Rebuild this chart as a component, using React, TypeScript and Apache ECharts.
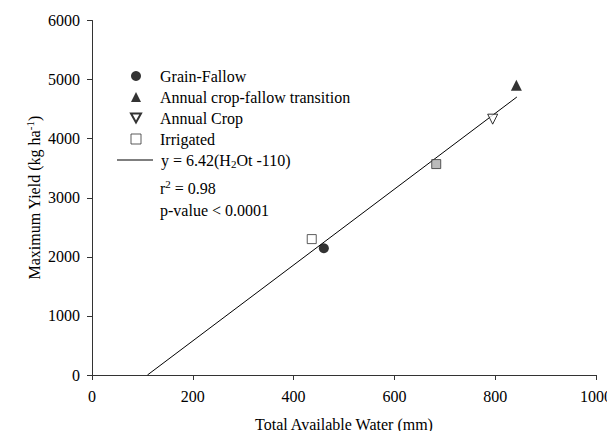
import React, { useEffect, useRef } from "react";
import * as echarts from "echarts";

const grainFallow: number[][] = [[460, 2145]];
const transition: number[][] = [[842, 4905]];
const annualCrop: number[][] = [[795, 4330]];
const irrigated: number[][] = [[436, 2300], [683, 3570]];
const fitLine: number[][] = [[110, 0], [843, 4705]];
const xTicks = [0, 200, 400, 600, 800, 1000];
const yTicks = [0, 1000, 2000, 3000, 4000, 5000, 6000];

const FONT = "'Liberation Serif', 'Times New Roman', serif";

export default function App() {
  const ref = useRef<HTMLDivElement>(null);
  useEffect(() => {
    const chart = echarts.init(ref.current!, undefined, { renderer: "svg" });
    const txt = { fontFamily: FONT, fontSize: 16, color: "#000" };
    const richA = { a: { fontFamily: FONT, fontSize: 16, color: "#000" } };
    chart.setOption({
      animation: false,
      backgroundColor: "#fff",
      textStyle: { fontFamily: FONT },
      grid: { left: 92, right: 17, top: 20.5, bottom: 64 },
      xAxis: {
        type: "value",
        min: xTicks[0],
        max: xTicks[xTicks.length - 1],
        interval: 200,
        name: "{a|Total Available Water (mm)}",
        nameLocation: "middle",
        nameGap: 41,
        nameMoveOverlap: false,
        nameTextStyle: { ...txt, rich: richA },
        axisLine: { show: true, lineStyle: { color: "#333", width: 1 } },
        axisTick: { show: true, length: 5, lineStyle: { color: "#333" } },
        axisLabel: { ...txt, margin: 13, rich: richA, formatter: (v: number) => `{a|${v}}` },
        splitLine: { show: false },
      },
      yAxis: {
        type: "value",
        min: yTicks[0],
        max: yTicks[yTicks.length - 1],
        interval: 1000,
        name: "{a|Maximum Yield (kg ha}{sup|-1}{a|)}",
        nameLocation: "middle",
        nameGap: 48,
        nameMoveOverlap: false,
        nameTextStyle: {
          ...txt,
          rich: {
            ...richA,
            sup: { fontFamily: FONT, fontSize: 11, color: "#000", padding: [0, 0, 9, 0] },
          },
        },
        axisLine: { show: true, lineStyle: { color: "#333", width: 1 } },
        axisTick: { show: true, length: 5, lineStyle: { color: "#333" } },
        axisLabel: { ...txt, margin: 12, rich: richA, formatter: (v: number) => `{a|${v}}` },
        splitLine: { show: false },
      },
      legend: [
        {
          orient: "vertical",
          left: 125,
          top: 63,
          itemWidth: 10,
          itemHeight: 10,
          itemGap: 5,
          textStyle: { ...txt, padding: [0, 0, 0, 14] },
          data: [
            "Grain-Fallow",
            "Annual crop-fallow transition",
            { name: "Annual Crop", icon: "path://M0,0L10,0L5,9Z" },
            { name: "Irrigated", itemStyle: { borderWidth: 1 } },
          ],
        },
        {
          orient: "vertical",
          left: 112,
          top: 147,
          itemWidth: 36,
          itemHeight: 1,
          textStyle: {
            ...txt,
            padding: [0, 0, 0, 3],
            rich: {
              ...richA,
              sub: { fontFamily: FONT, fontSize: 11, color: "#000", padding: [7, 0, 0, 0] },
            },
          },
          formatter: () => "{a|y = 6.42(H}{sub|2}{a|Ot -110)}",
          data: [{ name: "fit", icon: "rect", itemStyle: { color: "#000" } }],
        },
      ],
      graphic: [
        {
          type: "text",
          left: 160,
          top: 178,
          style: {
            text: "{a|r}{sup|2}{a| = 0.98}",
            rich: {
              a: { fontFamily: FONT, fontSize: 16, fill: "#000" },
              sup: { fontFamily: FONT, fontSize: 11, fill: "#000", padding: [0, 0, 9, 0] },
            },
          },
        },
        {
          type: "text",
          left: 160,
          top: 202,
          style: { text: "p-value < 0.0001", fontFamily: FONT, fontSize: 16, fill: "#000" },
        },
      ],
      series: [
        {
          name: "fit",
          type: "line",
          data: fitLine,
          symbol: "none",
          lineStyle: { color: "#000", width: 1 },
          itemStyle: { color: "#000" },
          z: 1,
        },
        {
          name: "Grain-Fallow",
          type: "scatter",
          data: grainFallow,
          symbol: "circle",
          symbolSize: 10,
          itemStyle: { color: "#000" },
          z: 3,
        },
        {
          name: "Annual crop-fallow transition",
          type: "scatter",
          data: transition,
          symbol: "triangle",
          symbolSize: 11,
          itemStyle: { color: "#000" },
          z: 3,
        },
        {
          name: "Annual Crop",
          type: "scatter",
          data: annualCrop,
          symbol: "triangle",
          symbolRotate: 180,
          symbolSize: 10,
          itemStyle: { color: "#fff", borderColor: "#000", borderWidth: 1 },
          z: 3,
        },
        {
          name: "Irrigated",
          type: "scatter",
          data: [
            irrigated[0],
            { value: irrigated[1], itemStyle: { color: "#aaa", borderColor: "#333" } },
          ],
          symbol: "rect",
          symbolSize: 9,
          itemStyle: { color: "#fff", borderColor: "#333", borderWidth: 1 },
          z: 3,
        },
      ],
    });
    return () => chart.dispose();
  }, []);
  return <div ref={ref} style={{ width: 615, height: 439, margin: -8 }} />;
}
